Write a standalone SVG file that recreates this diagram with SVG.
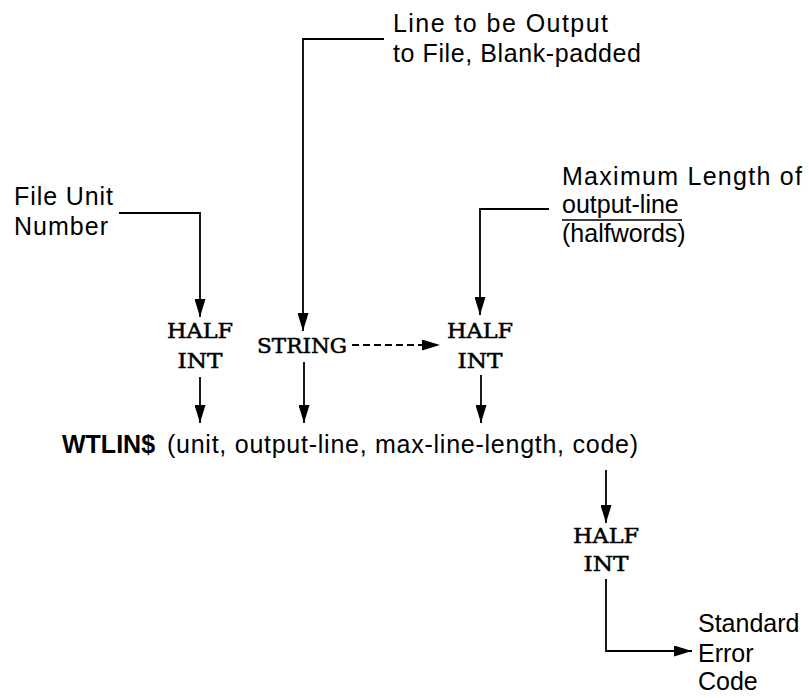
<svg xmlns="http://www.w3.org/2000/svg" width="809" height="698" viewBox="0 0 809 698">
<defs>
<style>
.lbl{font-family:"Liberation Sans",Arial,sans-serif;font-size:25px;fill:#000}
.b{font-weight:bold}
.mono{font-family:"DejaVu Serif","Liberation Serif",serif;font-size:20px;fill:#000;stroke:#000;stroke-width:0.5;text-anchor:middle}
.ln{fill:none;stroke:#000;stroke-width:1.8}
.dash{stroke-dasharray:7 4}
</style>
<marker id="ah" viewBox="0 0 18 11" refX="18" refY="5.5" markerWidth="18" markerHeight="11" markerUnits="userSpaceOnUse" orient="auto">
<path d="M0,0 L18,5.5 L0,11 Z" fill="#000"/>
</marker>
</defs>
<rect width="809" height="698" fill="#fff"/>

<g id="connectors">
<path class="ln" d="M119,213 H200 V317" marker-end="url(#ah)"/>
<path class="ln" d="M384,39 H303 V331" marker-end="url(#ah)"/>
<path class="ln" d="M549,209 H480 V315" marker-end="url(#ah)"/>
<path class="ln dash" d="M352,345 H440" marker-end="url(#ah)"/>
<path class="ln" d="M200,377 V423" marker-end="url(#ah)"/>
<path class="ln" d="M304,362 V423" marker-end="url(#ah)"/>
<path class="ln" d="M481,375 V423" marker-end="url(#ah)"/>
<path class="ln" d="M606,470 V523" marker-end="url(#ah)"/>
<path class="ln" d="M606,579 V651 H692" marker-end="url(#ah)"/>
</g>

<g id="label-line-output">
<text class="lbl" x="393" y="32" textLength="215" lengthAdjust="spacing">Line to be Output</text>
<text class="lbl" x="393" y="62" textLength="248" lengthAdjust="spacing">to File, Blank-padded</text>
</g>

<g id="label-file-unit">
<text class="lbl" x="14" y="205" textLength="99" lengthAdjust="spacing">File Unit</text>
<text class="lbl" x="14" y="235" textLength="94" lengthAdjust="spacing">Number</text>
</g>

<g id="label-max-length">
<text class="lbl" x="562" y="185" textLength="240" lengthAdjust="spacing">Maximum Length of</text>
<text class="lbl" x="562" y="213">output-line</text>
<line x1="562" y1="220" x2="682" y2="220" stroke="#000" stroke-width="1.6"/>
<text class="lbl" x="562" y="242">(halfwords)</text>
</g>

<g id="type-unit">
<text class="mono" x="200" y="338" textLength="66" lengthAdjust="spacingAndGlyphs">HALF</text>
<text class="mono" x="200" y="368" textLength="45" lengthAdjust="spacingAndGlyphs">INT</text>
</g>

<g id="type-string">
<text class="mono" x="302" y="353" textLength="90" lengthAdjust="spacingAndGlyphs">STRING</text>
</g>

<g id="type-maxlen">
<text class="mono" x="480" y="338" textLength="66" lengthAdjust="spacingAndGlyphs">HALF</text>
<text class="mono" x="480" y="368" textLength="45" lengthAdjust="spacingAndGlyphs">INT</text>
</g>

<g id="call-wtlin">
<text class="lbl b" x="62" y="453">WTLIN$</text>
<text class="lbl" x="167" y="453" textLength="471" lengthAdjust="spacing">(unit, output-line, max-line-length, code)</text>
</g>

<g id="type-code">
<text class="mono" x="606" y="543" textLength="66" lengthAdjust="spacingAndGlyphs">HALF</text>
<text class="mono" x="606" y="571" textLength="45" lengthAdjust="spacingAndGlyphs">INT</text>
</g>

<g id="label-error-code">
<text class="lbl" x="698" y="632">Standard</text>
<text class="lbl" x="698" y="662">Error</text>
<text class="lbl" x="698" y="690">Code</text>
</g>
</svg>
